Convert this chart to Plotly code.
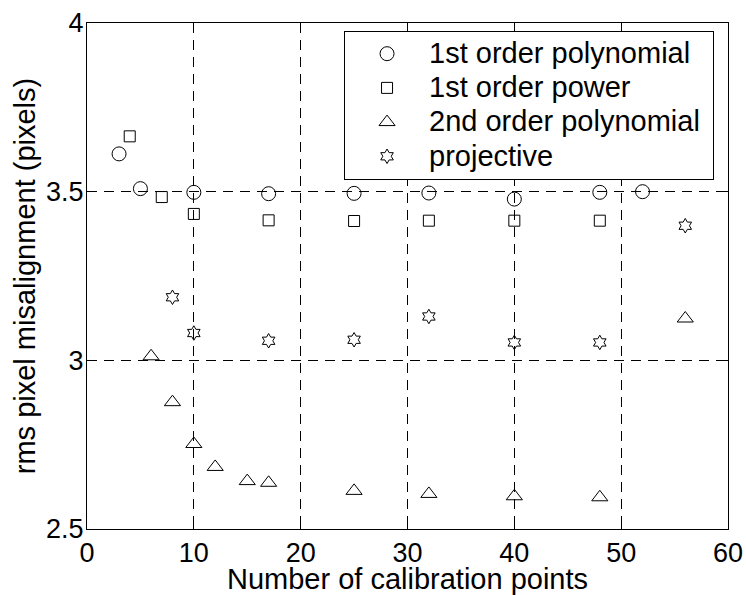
import plotly.graph_objects as go

# Data
poly1_x = [3, 5, 10, 17, 25, 32, 40, 48, 52]
poly1_y = [3.612, 3.509, 3.498, 3.494, 3.495, 3.496, 3.478, 3.498, 3.500]

power1_x = [4, 7, 10, 17, 25, 32, 40, 48]
power1_y = [3.664, 3.484, 3.434, 3.415, 3.413, 3.414, 3.414, 3.414]

poly2_x = [6, 8, 10, 12, 15, 17, 25, 32, 40, 48, 56]
poly2_y = [3.012, 2.876, 2.752, 2.684, 2.642, 2.637, 2.613, 2.604, 2.597, 2.594, 3.124]

proj_x = [8, 10, 17, 25, 32, 40, 48, 56]
proj_y = [3.187, 3.081, 3.058, 3.061, 3.130, 3.053, 3.053, 3.399]

series_names = ["1st order polynomial", "1st order power",
                "2nd order polynomial", "projective"]

x_ticks = [0, 10, 20, 30, 40, 50, 60]
y_ticks = [2.5, 3, 3.5, 4]
y_tick_labels = ["2.5", "3", "3.5", "4"]

FONT = "Liberation Sans, Arial, Helvetica, sans-serif"

fig = go.Figure()

series = [
    (series_names[0], poly1_x, poly1_y, "circle-open", 14),
    (series_names[1], power1_x, power1_y, "square-open", 11),
    (series_names[2], poly2_x, poly2_y, "triangle-up-open", 14),
    (series_names[3], proj_x, proj_y, "hexagram-open", 11),
]
for i, (name, xs, ys, sym, sz) in enumerate(series):
    label = name + ("\u00a0" if i == 2 else "")
    fig.add_trace(go.Scatter(
        x=xs, y=ys, mode="markers",
        name='<span style="font-size:29px">' + label + "</span>",
        marker=dict(symbol=sym, size=sz, color="black",
                    line=dict(color="black", width=1)),
    ))

axis_common = dict(
    showline=True, linecolor="black", linewidth=1, mirror="ticks",
    ticks="inside", ticklen=5, tickcolor="black", tickwidth=1,
    showgrid=True, gridcolor="black", gridwidth=1, griddash="10px,7px",
    zeroline=False, automargin=False,
    tickfont=dict(family=FONT, size=27, color="black"),
)

fig.update_xaxes(
    range=[0, 60], tickvals=x_ticks, ticktext=[str(v) for v in x_ticks],
    title=dict(text="Number of calibration points",
               font=dict(family=FONT, size=29, color="black"), standoff=1),
    **axis_common,
)
fig.update_yaxes(
    range=[2.5, 4], tickvals=y_ticks, ticktext=y_tick_labels,
    ticklabelstandoff=-3,
    title=dict(text="rms pixel misalignment (pixels)",
               font=dict(family=FONT, size=29, color="black"), standoff=1),
    **axis_common,
)

fig.update_layout(
    width=746, height=595,
    margin=dict(l=87, r=18, t=23, b=66),
    paper_bgcolor="white", plot_bgcolor="white",
    font=dict(family=FONT, color="black"),
    showlegend=True,
    legend=dict(
        x=0.401, y=0.985, xanchor="left", yanchor="top",
        bgcolor="white", bordercolor="black", borderwidth=1,
        font=dict(family=FONT, size=24, color="black"),
        itemwidth=74, itemsizing="trace",
    ),
)

fig.write_html(
    "out.html",
    config={"displayModeBar": False},
    post_script="document.body.style.margin='0';"
                "document.body.style.padding='0';"
                "document.body.style.overflow='hidden';",
)
